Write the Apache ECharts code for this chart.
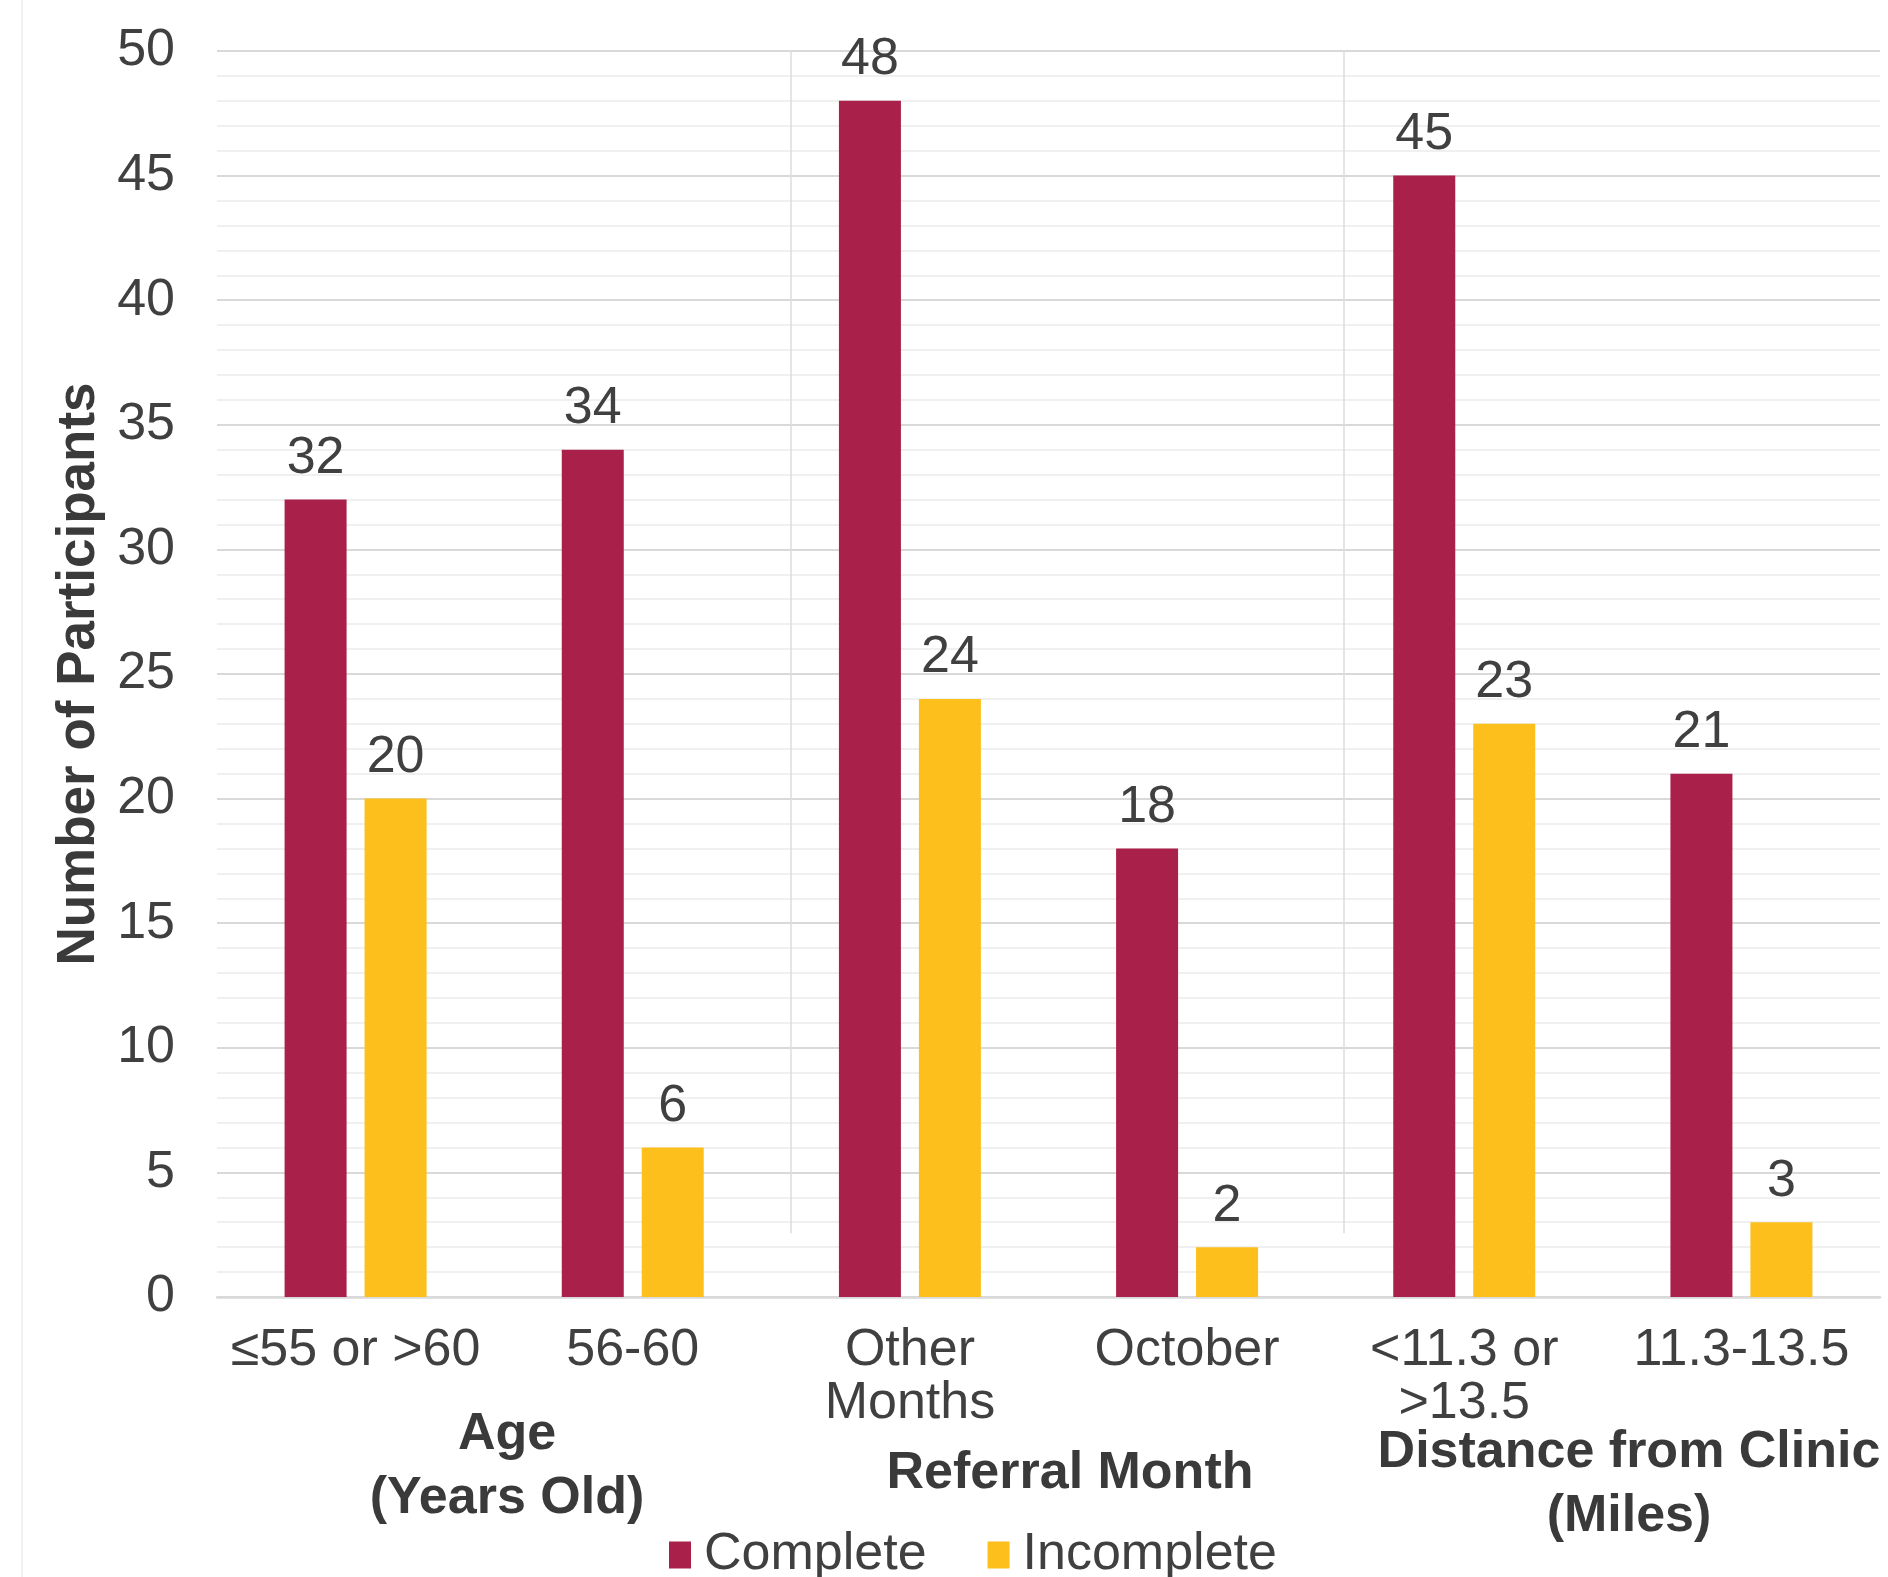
<!DOCTYPE html>
<html>
<head>
<meta charset="utf-8">
<title>Completion by group</title>
<script src="https://cdn.jsdelivr.net/npm/echarts@6/dist/echarts.min.js"></script>
<style>
  html, body { margin: 0; padding: 0; background: #fff; }
  #chart { width: 1888px; height: 1577px; }
</style>
</head>
<body>
<div id="chart"></div>
<script>
// categories along the x axis (two-level axis: group -> item)
const categories = ['≤55 or >60', '56-60', 'Other\nMonths', 'October', '<11.3 or\n>13.5', '11.3-13.5']
const groups = ['Age\n(Years Old)', 'Referral Month', 'Distance from Clinic\n(Miles)']

// number of participants
const complete = [32, 34, 48, 18, 45, 21]
const incomplete = [20, 6, 24, 2, 23, 3]

const seriesNames = ['Complete', 'Incomplete']
const yTicks = [0, 5, 10, 15, 20, 25, 30, 35, 40, 45, 50]

const FONT = '"Liberation Sans", Arial, Helvetica, sans-serif'
const TEXT = '#404040'

function generateChart () {
  var chartDom = document.getElementById('chart')
  var myChart = echarts.init(chartDom, null, { renderer: 'canvas' })
  var option

  const labelCfg = {
    show: true,
    position: 'top',
    distance: 15,
    fontSize: 52,
    fontFamily: FONT,
    color: TEXT
  }

  const groupText = (text, x, y) => ({
    type: 'text',
    x: x,
    y: y,
    style: {
      text: text,
      font: 'bold 52px ' + FONT,
      lineHeight: 64,
      fill: '#3a3a3a',
      align: 'center',
      verticalAlign: 'middle'
    }
  })

  option = {
    backgroundColor: '#ffffff',
    animation: false,
    textStyle: { fontFamily: FONT },
    grid: {
      left: 217,
      right: 8,
      top: 51,
      bottom: 280
    },
    legend: {
      data: seriesNames,
      left: 664,
      top: 1524,
      itemWidth: 22,
      itemHeight: 27,
      itemGap: 61,
      icon: 'rect',
      textStyle: {
        fontSize: 52,
        fontFamily: FONT,
        color: TEXT,
        padding: [0, 0, 0, 8]
      }
    },
    xAxis: [
      {
        type: 'category',
        data: categories,
        axisTick: { show: false },
        axisLine: { show: true, lineStyle: { color: '#d9d9d9', width: 2.5 } },
        axisLabel: {
          interval: 0,
          margin: 27,
          fontSize: 52,
          lineHeight: 53,
          fontFamily: FONT,
          color: TEXT
        },
        splitLine: { show: false }
      },
      // hidden helper axis, only used to place the group separators
      {
        type: 'value',
        min: 0,
        max: 6,
        show: false
      }
    ],
    yAxis: {
      type: 'value',
      min: yTicks[0],
      max: yTicks[yTicks.length - 1],
      interval: 5,
      name: 'Number of Participants',
      nameLocation: 'middle',
      nameGap: 110,
      nameTextStyle: {
        fontSize: 53,
        fontWeight: 'bold',
        fontFamily: FONT,
        color: '#3a3a3a'
      },
      axisLine: { show: false },
      axisTick: { show: false },
      axisLabel: {
        margin: 42,
        fontSize: 52,
        fontFamily: FONT,
        color: TEXT
      },
      splitLine: {
        show: true,
        lineStyle: { color: '#d9d9d9', width: 2 }
      },
      minorTick: { show: false, splitNumber: 5 },
      minorSplitLine: {
        show: true,
        lineStyle: { color: '#f0f0f0', width: 2 }
      }
    },
    series: [
      {
        name: seriesNames[0],
        type: 'bar',
        data: complete,
        barWidth: 62,
        barGap: '29%',
        itemStyle: { color: '#a9214a' },
        label: labelCfg,
        z: 3
      },
      {
        name: seriesNames[1],
        type: 'bar',
        data: incomplete,
        barWidth: 62,
        barGap: '29%',
        itemStyle: { color: '#fdbf1b' },
        label: labelCfg,
        z: 3
      },
      // group separators
      {
        type: 'line',
        xAxisIndex: 1,
        data: [],
        silent: true,
        markLine: {
          silent: true,
          symbol: 'none',
          label: { show: false },
          lineStyle: { color: '#dcdcdc', width: 1.5, type: 'solid' },
          data: [
            [{ coord: [2.07, 2.56] }, { coord: [2.07, 50] }],
            [{ coord: [4.065, 2.56] }, { coord: [4.065, 50] }]
          ]
        }
      }
    ],
    graphic: [
      {
        type: 'line',
        shape: { x1: 22, y1: 0, x2: 22, y2: 1577 },
        style: { stroke: '#ececec', lineWidth: 1.5 },
        silent: true
      },
      groupText(groups[0], 507, 1467),
      groupText(groups[1], 1070, 1474),
      groupText(groups[2], 1629, 1485)
    ]
  }

  option && myChart.setOption(option)
}

generateChart()
</script>
</body>
</html>
